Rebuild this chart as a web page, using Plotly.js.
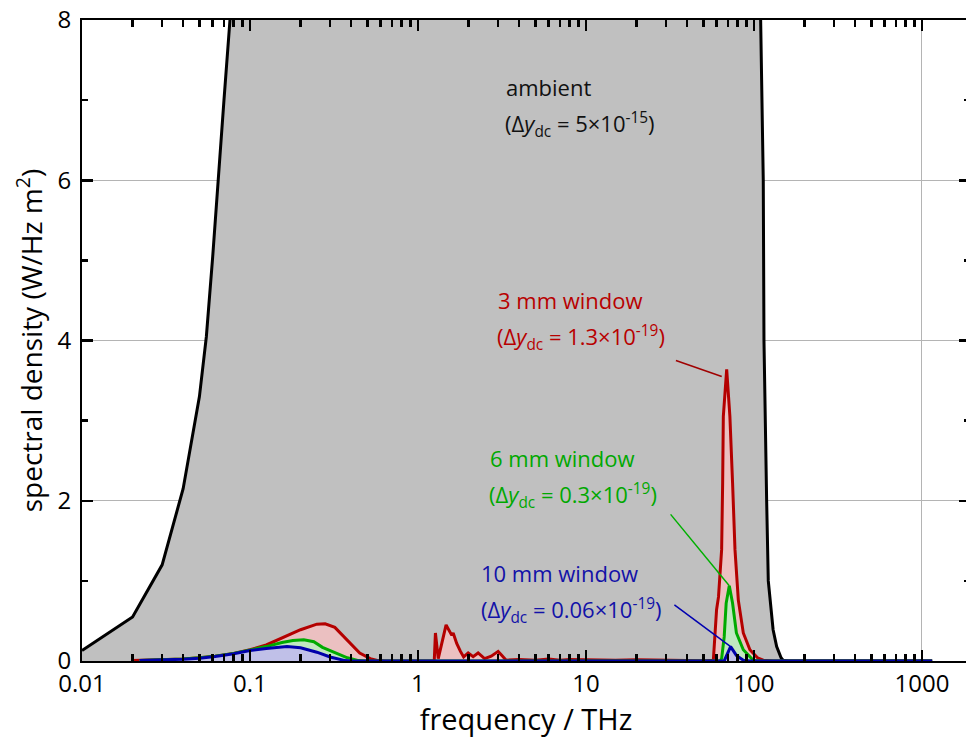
<!DOCTYPE html>
<html>
<head>
<meta charset="utf-8">
<script src="https://cdn.plot.ly/plotly-3.0.1.min.js"></script>
<style>
html,body{margin:0;padding:0;overflow:hidden;background:#fff;}
#chart{width:972px;height:740px;}
</style>
</head>
<body>
<div id="chart"></div>
<script>
// ---- data (frequency in THz, spectral density in W/(Hz m^2)) ----
const ambientFreq = [0.01, 0.02, 0.03, 0.04, 0.05, 0.055, 0.06, 0.0645, 0.07, 0.076, 0.08, 0.1, 1, 10, 100, 105, 109.6, 113.6, 114.7, 119, 121.7, 130, 136.5, 145, 149, 160, 1150];
const ambientVal  = [0.13, 0.55, 1.2, 2.15, 3.3, 4.05, 5.05, 6.0, 7.0, 8.0, 8.6, 13.5, 40, 40, 40, 12, 8.0, 6.0, 4.0, 2.0, 1.0, 0.39, 0.18, 0.04, 0.01, 0, 0];

const win3Freq = [0.02, 0.03, 0.04, 0.05, 0.062, 0.08, 0.1, 0.125, 0.155, 0.2, 0.25, 0.28, 0.32, 0.387, 0.45, 0.52, 0.58, 0.65, 1.25, 1.27, 1.32, 1.47, 1.54, 1.59, 1.62, 1.70, 1.79, 1.87, 1.99, 2.13, 2.28, 2.49, 2.73, 3.0, 3.14, 3.35, 4, 5, 6, 7, 8, 10, 12, 15, 20, 30, 40, 50, 57.3, 58.5, 59.9, 61.5, 64.2, 65.1, 65.7, 68.8, 71.9, 74.6, 77.1, 80.7, 86.4, 94.6, 105, 113.6, 130, 1150];
const win3Val  = [0.005, 0.012, 0.025, 0.04, 0.06, 0.095, 0.14, 0.2, 0.29, 0.39, 0.46, 0.465, 0.42, 0.24, 0.1, 0.03, 0.005, 0, 0, 0.35, 0.03, 0.45, 0.37, 0.32, 0.35, 0.22, 0.12, 0.05, 0.10, 0.055, 0.10, 0.03, 0.06, 0.12, 0.075, 0.01, 0.02, 0.01, 0.025, 0.01, 0.02, 0.015, 0.02, 0.01, 0.015, 0.008, 0.005, 0.003, 0.01, 0.26, 0.64, 0.8, 1.39, 2.22, 3.05, 3.64, 3.05, 2.22, 1.39, 0.76, 0.35, 0.14, 0.04, 0.01, 0, 0];

const win6Freq = [0.022, 0.03, 0.04, 0.05, 0.062, 0.08, 0.1, 0.125, 0.155, 0.18, 0.209, 0.24, 0.27, 0.322, 0.38, 0.443, 0.5, 63, 64.2, 66.5, 68.3, 71.3, 74.6, 78.6, 86.4, 99, 110, 1150];
const win6Val  = [0.005, 0.012, 0.025, 0.04, 0.06, 0.095, 0.135, 0.18, 0.23, 0.255, 0.265, 0.24, 0.17, 0.10, 0.04, 0.005, 0, 0, 0.03, 0.30, 0.72, 0.94, 0.72, 0.35, 0.14, 0.01, 0, 0];

const win10Freq = [0.022, 0.03, 0.04, 0.05, 0.062, 0.08, 0.1, 0.125, 0.166, 0.2, 0.25, 0.3, 0.369, 0.4, 66, 66.8, 69.5, 72.6, 78.6, 86.4, 95, 1150];
const win10Val  = [0.005, 0.012, 0.022, 0.035, 0.055, 0.09, 0.13, 0.155, 0.18, 0.165, 0.11, 0.05, 0.005, 0, 0, 0.01, 0.1, 0.18, 0.07, 0.01, 0, 0];

// leader lines from labels to peaks
const lead3Freq = [34.3, 64.3],  lead3Val = [3.75, 3.55];
const lead6Freq = [31.9, 71.3],  lead6Val = [1.83, 0.94];
const lead10Freq = [33.6, 72.6], lead10Val = [0.70, 0.18];

const xTickVals = [0.01, 0.1, 1, 10, 100, 1000];
const xTickText = ['0.01', '0.1', '1', '10', '100', '1000'];
const xMinorVals = [0.02, 0.03, 0.04, 0.05, 0.06, 0.07, 0.08, 0.09,
                    0.2, 0.3, 0.4, 0.5, 0.6, 0.7, 0.8, 0.9,
                    2, 3, 4, 5, 6, 7, 8, 9,
                    20, 30, 40, 50, 60, 70, 80, 90,
                    200, 300, 400, 500, 600, 700, 800, 900];
const yTickVals = [0, 2, 4, 6, 8];
const yMinorVals = [1, 3, 5, 7];

const labels = [
  {lines: ['ambient', '(Δ<i>y</i><sub>dc</sub> = 5×10<sup>-15</sup>)'], logx: [0.512, 0.505], y: [7.16, 6.7], color: '#111111'},
  {lines: ['3 mm window', '(Δ<i>y</i><sub>dc</sub> = 1.3×10<sup>-19</sup>)'], logx: [0.464, 0.458], y: [4.5, 4.04], color: '#b80000'},
  {lines: ['6 mm window', '(Δ<i>y</i><sub>dc</sub> = 0.3×10<sup>-19</sup>)'], logx: [0.418, 0.409], y: [2.53, 2.07], color: '#00a800'},
  {lines: ['10 mm window', '(Δ<i>y</i><sub>dc</sub> = 0.06×10<sup>-19</sup>)'], logx: [0.361, 0.361], y: [1.1, 0.63], color: '#1212a8'}
];

const FONT = '"Open Sans", "DejaVu Sans", sans-serif';

const traces = [
  {x: ambientFreq, y: ambientVal, mode: 'lines', fill: 'tozeroy', fillcolor: '#c0c0c0',
   line: {color: '#000000', width: 3}},
  {x: win3Freq, y: win3Val, mode: 'lines', fill: 'tozeroy', fillcolor: '#ebc0c1',
   line: {color: '#b40000', width: 3}},
  {x: win6Freq, y: win6Val, mode: 'lines', fill: 'tozeroy', fillcolor: '#c0e8c0',
   line: {color: '#00aa00', width: 3}},
  {x: win10Freq, y: win10Val, mode: 'lines', fill: 'tozeroy', fillcolor: '#c0c0e8',
   line: {color: '#0000aa', width: 3}},
  {x: lead3Freq, y: lead3Val, mode: 'lines', line: {color: '#a00000', width: 1.5}},
  {x: lead6Freq, y: lead6Val, mode: 'lines', line: {color: '#00b000', width: 1.5}},
  {x: lead10Freq, y: lead10Val, mode: 'lines', line: {color: '#0000b0', width: 1.5}}
];

const annotations = [];
labels.forEach(l => {
  l.lines.forEach((t, i) => {
    annotations.push({x: l.logx[i], y: l.y[i], xref: 'x', yref: 'y', text: t, showarrow: false,
      xanchor: 'left', yanchor: 'middle', font: {family: FONT, size: 22, color: l.color}});
  });
});

const axisCommon = {
  showline: true, linecolor: '#000', linewidth: 2, mirror: 'ticks',
  ticks: 'inside', ticklen: 11, tickwidth: 2.5, tickcolor: '#000',
  showgrid: true, gridcolor: '#b4b4b4', gridwidth: 1, zeroline: false,
  tickfont: {family: FONT, size: 24, color: '#000'}
};

const layout = {
  width: 972, height: 740,
  margin: {l: 82, r: 2, t: 20, b: 79},
  paper_bgcolor: '#fff', plot_bgcolor: '#fff',
  showlegend: false, hovermode: false,
  font: {family: FONT, color: '#000'},
  xaxis: Object.assign({}, axisCommon, {
    type: 'log', range: [-2, 3.286],
    tickmode: 'array', tickvals: xTickVals, ticktext: xTickText,
    minor: {tickmode: 'array', tickvals: xMinorVals, ticks: 'inside', ticklen: 7, tickwidth: 2.5, tickcolor: '#000', showgrid: false},
    title: {text: 'frequency / THz', font: {family: FONT, size: 29, color: '#000'}, standoff: 3}
  }),
  yaxis: Object.assign({}, axisCommon, {
    range: [0, 8], tickmode: 'array', tickvals: yTickVals,
    minor: {tickmode: 'array', tickvals: yMinorVals, ticks: 'inside', ticklen: 6, tickwidth: 2.5, tickcolor: '#000', showgrid: false},
    ticklabelstandoff: 4,
    title: {text: 'spectral density (W/Hz m<sup>2</sup>)', font: {family: FONT, size: 28, color: '#000'}, standoff: 7}
  }),
  annotations: annotations
};

Plotly.newPlot('chart', traces, layout, {staticPlot: true, displayModeBar: false});
</script>
</body>
</html>
